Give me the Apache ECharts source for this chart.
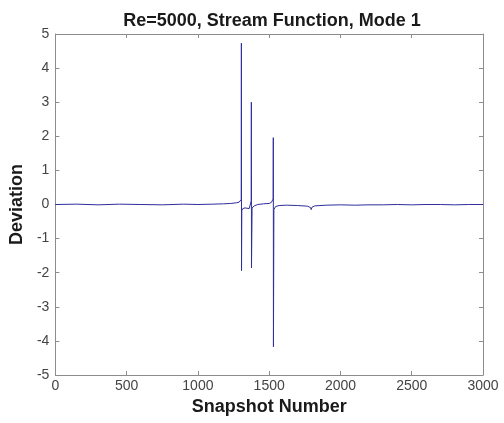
<!DOCTYPE html>
<html>
<head>
<meta charset="utf-8">
<script src="https://cdn.jsdelivr.net/npm/echarts@6/dist/echarts.min.js"></script>
<style>
  html, body { margin: 0; padding: 0; background: #fff; }
  #chart { width: 504px; height: 423px; }
</style>
</head>
<body>
<div id="chart"></div>
<script>
// Mode 1 deviation of the stream function, per snapshot
const snapshots = [0, 150, 300, 450, 600, 750, 900, 1000, 1100, 1180, 1230, 1270, 1290, 1300, 1304, 1305, 1306, 1308, 1315, 1330, 1345, 1360, 1370, 1374, 1375, 1376, 1380, 1395, 1420, 1460, 1500, 1515, 1524, 1528, 1529, 1530, 1533, 1545, 1570, 1620, 1700, 1770, 1790, 1795, 1800, 1820, 1900, 2000, 2100, 2200, 2300, 2400, 2500, 2600, 2700, 2800, 2900, 3000];
const deviation = [0.0, 0.01, -0.01, 0.01, 0.0, -0.01, 0.01, 0.0, 0.01, 0.02, 0.03, 0.05, 0.07, 0.1, 0.15, 4.73, -1.94, -0.18, -0.12, -0.1, -0.11, -0.12, -0.08, 0.1, 3.0, -1.86, -0.1, -0.04, 0.0, 0.02, 0.03, 0.06, 0.1, 0.16, 1.96, -4.17, -0.15, -0.06, -0.03, -0.02, -0.03, -0.05, -0.09, -0.15, -0.08, -0.04, -0.02, -0.01, -0.02, -0.01, -0.01, 0.0, -0.01, 0.0, 0.0, -0.01, 0.0, 0.0];

const xTicks = [0, 500, 1000, 1500, 2000, 2500, 3000];
const yTicks = [-5, -4, -3, -2, -1, 0, 1, 2, 3, 4, 5];

const titleText = 'Re=5000, Stream Function, Mode 1';
const xLabel = 'Snapshot Number';
const yLabel = 'Deviation';

const font = 'Liberation Sans, Arial, Helvetica, sans-serif';
const boxColor = '#8c8c8c';
const traceColor = '#2e2e9c';

const chart = echarts.init(document.getElementById('chart'));

const baseX = {
  type: 'value', min: xTicks[0], max: xTicks[xTicks.length - 1], interval: 500,
  axisLine: { show: true, onZero: false, lineStyle: { color: boxColor, width: 1 } },
  axisTick: { show: true, inside: true, length: 4, lineStyle: { color: boxColor } },
  splitLine: { show: false }
};
const baseY = {
  type: 'value', min: yTicks[0], max: yTicks[yTicks.length - 1], interval: 1,
  axisLine: { show: true, onZero: false, lineStyle: { color: boxColor, width: 1 } },
  axisTick: { show: true, inside: true, length: 4, lineStyle: { color: boxColor } },
  splitLine: { show: false }
};

chart.setOption({
  animation: false,
  backgroundColor: '#ffffff',
  title: {
    text: titleText,
    left: 267, top: 7, textAlign: 'center',
    textStyle: { fontFamily: font, fontSize: 18, fontWeight: 'bold', color: '#1a1a1a' }
  },
  grid: { left: 54, right: 21, top: 34, bottom: 48 },
  xAxis: [
    Object.assign({}, baseX, {
      position: 'bottom',
      name: xLabel, nameLocation: 'middle', nameGap: 23,
      nameTextStyle: { fontFamily: font, fontSize: 18, fontWeight: 'bold', color: '#1a1a1a' },
      axisLabel: { show: true, fontFamily: font, fontSize: 14, color: '#444', margin: 4,
                   formatter: v => String(v) }
    }),
    Object.assign({}, baseX, { position: 'top', axisLabel: { show: false } })
  ],
  yAxis: [
    Object.assign({}, baseY, {
      position: 'left',
      name: yLabel, nameLocation: 'middle', nameGap: 27,
      nameTextStyle: { fontFamily: font, fontSize: 18, fontWeight: 'bold', color: '#1a1a1a' },
      axisLabel: { show: true, fontFamily: font, fontSize: 14, color: '#444', margin: 6,
                   formatter: v => String(v) }
    }),
    Object.assign({}, baseY, { position: 'right', axisLabel: { show: false } })
  ],
  series: [{
    type: 'line',
    xAxisIndex: 0, yAxisIndex: 0,
    data: snapshots.map((s, i) => [s, deviation[i]]),
    showSymbol: false,
    lineStyle: { color: traceColor, width: 1 },
    itemStyle: { color: traceColor }
  }]
});
</script>
</body>
</html>
